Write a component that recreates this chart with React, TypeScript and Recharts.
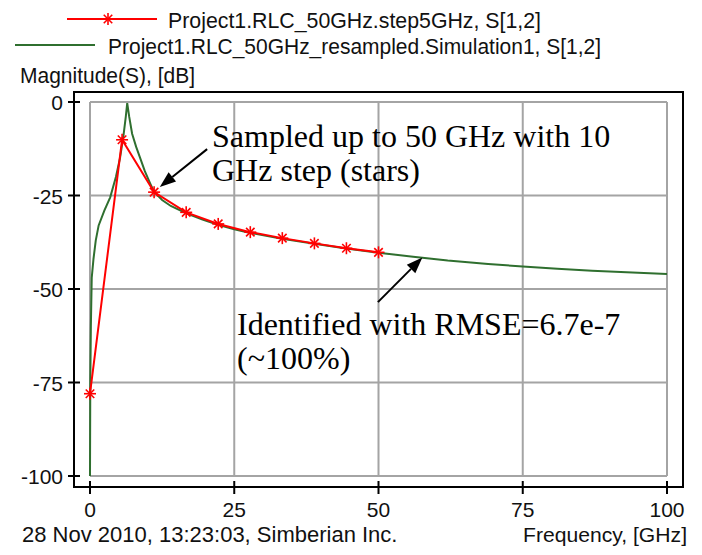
import { CartesianGrid, Line, LineChart, ReferenceLine, XAxis, YAxis } from "recharts"

// stars: 10 samples, 0..50 GHz
const sampledFreq = [0, 5.56, 11.11, 16.67, 22.22, 27.78, 33.33, 38.89, 44.44, 50]
const sampledMag = [-78, -10.1, -24.1, -29.5, -32.6, -34.8, -36.4, -37.8, -39.1, -40.2]

// identified model, resampled to 100 GHz
const modelFreq = [
  0, 0.05, 0.15, 0.3, 0.6, 1, 1.5, 2.5, 3.5, 4.5, 5.2, 5.8, 6.2, 6.45, 6.8, 7.3, 8, 8.7,
  9.5, 10.5, 11.1, 12.5, 14, 16.7, 19.5, 22.2, 25, 27.8, 33.3, 38.9, 44.4, 50, 56, 62, 69,
  75, 81, 87, 94, 100,
]
const modelMag = [
  -100, -75, -60, -47, -42, -37, -33, -29, -25.5, -20, -15, -9, -4, -0.3, -4, -8.5, -12,
  -15, -18.5, -22, -24, -26.2, -27.8, -29.8, -31.4, -32.8, -34, -35, -36.6, -37.9, -39.2,
  -40.3, -41.4, -42.4, -43.3, -44, -44.6, -45.1, -45.6, -46,
]

const xTicks = [0, 25, 50, 75, 100]
const yTicks = [-100, -75, -50, -25, 0]

const seriesNames = [
  "Project1.RLC_50GHz.step5GHz, S[1,2]",
  "Project1.RLC_50GHz_resampled.Simulation1, S[1,2]",
]

// annotation arrows: [tail, head] in data units
const arrowSampled = [{ x: 20.3, y: -12.6 }, { x: 12.1, y: -22.7 }]
const arrowModel = [{ x: 49.9, y: -53.5 }, { x: 57.6, y: -41.6 }]

const sampledData = sampledFreq.map((f, i) => ({ f, v: sampledMag[i] }))
const modelData = modelFreq.map((f, i) => ({ f, v: modelMag[i] }))

const RED = "#ff0000"
const GREEN = "#2f6f2f"
const SANS = "'Liberation Sans', Arial, sans-serif"
const SERIF = "'Liberation Serif', 'Times New Roman', serif"

function Star({ cx, cy, r = 6 }: { cx: number; cy: number; r?: number }) {
  const d = r * 0.707
  return (
    <g stroke={RED} strokeWidth={1.6}>
      <line x1={cx - r} y1={cy} x2={cx + r} y2={cy} />
      <line x1={cx} y1={cy - r} x2={cx} y2={cy + r} />
      <line x1={cx - d} y1={cy - d} x2={cx + d} y2={cy + d} />
      <line x1={cx - d} y1={cy + d} x2={cx + d} y2={cy - d} />
    </g>
  )
}

function Arrow(props: any) {
  const { x1, y1, x2, y2 } = props
  const a = Math.atan2(y2 - y1, x2 - x1)
  const len = 16
  const w = 6
  const bx = x2 - len * Math.cos(a)
  const by = y2 - len * Math.sin(a)
  const px = -Math.sin(a) * w
  const py = Math.cos(a) * w
  return (
    <g>
      <line x1={x1} y1={y1} x2={bx} y2={by} stroke="#000" strokeWidth={2} />
      <polygon points={`${x2},${y2} ${bx + px},${by + py} ${bx - px},${by - py}`} fill="#000" />
    </g>
  )
}

function YTick({ y, payload }: any) {
  return (
    <g>
      <line x1={68} x2={80} y1={y} y2={y} stroke="#000" strokeWidth={2} />
      <text x={63} y={y} dy={8} textAnchor="end" fontSize={21} fontFamily={SANS} fill="#111">
        {payload.value}
      </text>
    </g>
  )
}

function XTick({ x, payload }: any) {
  return (
    <g>
      <line x1={x} x2={x} y1={481} y2={494} stroke="#000" strokeWidth={2} />
      <text x={x} y={517} textAnchor="middle" fontSize={21} fontFamily={SANS} fill="#111">
        {payload.value}
      </text>
    </g>
  )
}

export default function App() {
  return (
    <div style={{ position: "absolute", left: 0, top: 0, width: 702, height: 555, background: "#fff" }}>
      <LineChart
        width={702}
        height={555}
        margin={{ top: 102, right: 35, left: 0, bottom: 0 }}
      >
        <CartesianGrid stroke="#a4a4a4" strokeWidth={2} />
        <XAxis
          type="number"
          dataKey="f"
          domain={[0, 100]}
          ticks={xTicks}
          height={79}
          axisLine={false}
          tickLine={false}
          tick={<XTick />}
          interval={0}
        />
        <YAxis
          type="number"
          dataKey="v"
          domain={[-100, 0]}
          ticks={yTicks}
          width={90}
          axisLine={false}
          tickLine={false}
          tick={<YTick />}
          interval={0}
        />
        <Line
          data={modelData}
          dataKey="v"
          type="linear"
          stroke={GREEN}
          strokeWidth={2}
          dot={false}
          isAnimationActive={false}
        />
        <Line
          data={sampledData}
          dataKey="v"
          type="linear"
          stroke={RED}
          strokeWidth={2}
          dot={(p: any) => <Star key={p.index} cx={p.cx} cy={p.cy} />}
          isAnimationActive={false}
        />
        <ReferenceLine segment={arrowSampled} shape={Arrow} ifOverflow="visible" />
        <ReferenceLine segment={arrowModel} shape={Arrow} ifOverflow="visible" />
      </LineChart>
      <svg
        width={702}
        height={555}
        style={{ position: "absolute", left: 0, top: 0, pointerEvents: "none" }}
      >
        <rect x={74} y={92} width={609} height={395} fill="none" stroke="#000" strokeWidth={2} />
        {/* legend */}
        <line x1={67} x2={157} y1={19} y2={19} stroke={RED} strokeWidth={2} />
        <Star cx={108} cy={19} />
        <text x={168} y={28} fontSize={21.5} fontFamily={SANS} fill="#111" textLength={373} lengthAdjust="spacingAndGlyphs">
          {seriesNames[0]}
        </text>
        <line x1={15} x2={95} y1={45} y2={45} stroke={GREEN} strokeWidth={2} />
        <text x={108} y={54} fontSize={21.5} fontFamily={SANS} fill="#111" textLength={493} lengthAdjust="spacingAndGlyphs">
          {seriesNames[1]}
        </text>
        <text x={20} y={83} fontSize={21.5} fontFamily={SANS} fill="#111" textLength={175} lengthAdjust="spacingAndGlyphs">
          Magnitude(S), [dB]
        </text>
        {/* annotations */}
        <g fontSize={32} fontFamily={SERIF} fill="#000">
          <text x={212} y={147}>Sampled up to 50 GHz with 10</text>
          <text x={212} y={181}>GHz step (stars)</text>
          <text x={237} y={335}>Identified with RMSE=6.7e-7</text>
          <text x={237} y={369}>(~100%)</text>
        </g>
        {/* footer */}
        <text x={22} y={542} fontSize={22} fontFamily={SANS} fill="#111">
          28 Nov 2010, 13:23:03, Simberian Inc.
        </text>
        <text x={687} y={542} fontSize={21} fontFamily={SANS} fill="#111" textAnchor="end" textLength={164} lengthAdjust="spacingAndGlyphs">
          Frequency, [GHz]
        </text>
      </svg>
    </div>
  )
}
